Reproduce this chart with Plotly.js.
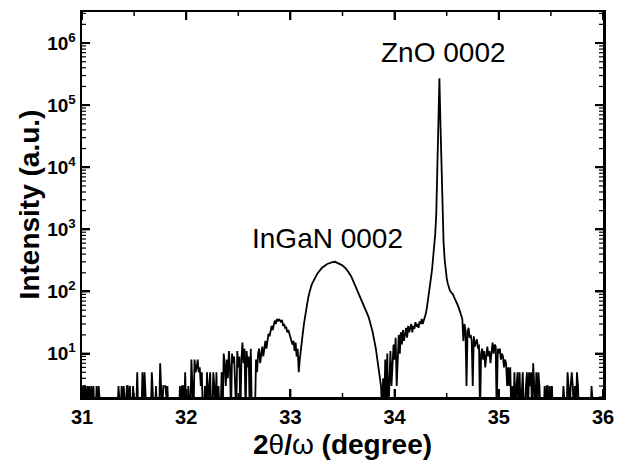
<!DOCTYPE html>
<html>
<head>
<meta charset="utf-8">
<script src="https://cdn.plot.ly/plotly-3.0.1.min.js"></script>
<style>html,body{margin:0;padding:0;background:#fff;}#chart{width:624px;height:473px;}</style>
</head>
<body>
<div id="chart"></div>
<script>
// 2theta/omega scan: start angle and step (degrees)
const scanStart = 31.0;
const scanStep = 0.01;
// Intensity (counts), one value per step from 31.00 to 36.00
const intensity = [
  3,1,3,3,1,3,2,3,1,3,
  1,3,1,1,3,1,3,1,1,1,
  1,1,1,1,1,1,1,1,1,1,
  1,1,1,1,1,3,1,1,3,1,
  3,1,1,3,3,1,3,1,1,3,
  1,1,1,5,1,1,1,1,5,1,
  5,1,1,1,1,1,1,5,1,1,
  1,3,1,1,1,7,1,1,3,3,
  3,2,3,1,1,1,1,1,1,1,
  1,1,1,1,3,1,3,3,1,5,
  1,1,3,1,1,8,3,1,8,5,
  6,8,5,6,3,5,1,1,3,1,
  5,1,3,5,1,1,5,3,1,5,
  1,3,1,1,5,1,10,7,3,8,
  4,11,6,1,10,7,9,3,1,11,
  6,9,1,8,15,7,12,1,11,6,
  9,1,12,1,1,2,1,8,5,10,
  12,7,10,13,9,14,16,12,18,21,
  19,25,28,24,30,34,30,36,33,36,
  34,32,35,28,30,26,27,22,24,21,
  18,17,14,16,11,15,9,12,5,8,
  12,16,22,30,40,52,64,78,92,110,
  122,135,148,160,170,182,195,207,220,228,
  238,246,255,262,268,275,280,284,290,294,
  298,300,296,302,294,290,285,280,276,268,
  262,255,246,236,225,214,203,192,180,166,
  152,140,128,118,108,98,90,82,74,66,
  62,57,52,48,44,39,34,30,26,22,
  18,15,12,9,7,5,4,3,1,4,
  1,8,2,10,1,6,11,3,9,14,
  8,18,3,12,20,10,22,14,24,16,
  20,26,18,28,22,25,30,22,28,25,
  32,27,30,26,33,30,36,30,34,38,
  44,55,70,95,130,170,230,340,520,850,
  1800,9000,45000,270000,50000,8000,1800,620,330,220,
  165,135,115,104,98,94,90,82,76,70,
  64,58,52,46,40,36,16,30,24,3,
  22,26,18,20,16,3,19,13,15,17,
  12,14,1,10,12,8,11,6,9,13,
  9,11,7,12,15,10,14,13,1,12,
  10,12,8,10,9,6,8,7,3,6,
  3,6,1,3,1,5,1,3,5,1,
  5,1,3,5,1,1,3,5,1,5,
  3,5,1,7,3,1,5,1,5,3,
  1,1,1,1,3,1,3,3,1,3,
  1,3,1,1,1,1,1,1,1,1,
  1,1,3,1,1,1,5,3,1,3,
  5,3,1,3,1,5,3,1,1,1,
  1,1,1,1,1,1,1,1,1,3,
  1,1,1,1,1,1,1,1,1,1,1
];
// axis ticks
const xTickVals = [31, 32, 33, 34, 35, 36];
const xTickText = ['31', '32', '33', '34', '35', '36'];
const xMinorTicks = [31.5, 32.5, 33.5, 34.5, 35.5];
const yTickVals = [10, 100, 1000, 10000, 100000, 1000000];
const yTickExp = ['1', '2', '3', '4', '5', '6'];
const yMinorTicks = [
  2,3,4,5,6,7,8,9,
  20,30,40,50,60,70,80,90,
  200,300,400,500,600,700,800,900,
  2000,3000,4000,5000,6000,7000,8000,9000,
  20000,30000,40000,50000,60000,70000,80000,90000,
  200000,300000,400000,500000,600000,700000,800000,900000,
  2000000,3000000
];
// titles and peak labels
const xTitle = '<b>2</b>θ<b>/</b>ω<b> (degree)</b>';
const yTitle = '<b>Intensity (a.u.)</b>';
const peakLabels = ['ZnO 0002', 'InGaN 0002'];

const FONT = 'Arial, "Liberation Sans", Helvetica, sans-serif';
const X_RANGE = [31, 36];
const Y_RANGE = [Math.log10(2), 6.5];

// inward tick marks on all four sides, placed through the axes' own scales
function xTickShapes(vals, len, width) {
  const out = [];
  vals.forEach(v => {
    out.push({type: 'line', xref: 'x', yref: 'paper', x0: v, x1: v, ysizemode: 'pixel', yanchor: 0, y0: 0, y1: len,
              line: {color: '#000', width: width}});
    out.push({type: 'line', xref: 'x', yref: 'paper', x0: v, x1: v, ysizemode: 'pixel', yanchor: 1, y0: 0, y1: -len,
              line: {color: '#000', width: width}});
  });
  return out;
}
function yTickShapes(vals, len, width) {
  const out = [];
  vals.forEach(v => {
    out.push({type: 'line', xref: 'paper', yref: 'y', y0: v, y1: v, xsizemode: 'pixel', xanchor: 0, x0: 0, x1: len,
              line: {color: '#000', width: width}});
    out.push({type: 'line', xref: 'paper', yref: 'y', y0: v, y1: v, xsizemode: 'pixel', xanchor: 1, x0: 0, x1: -len,
              line: {color: '#000', width: width}});
  });
  return out;
}

const trace = {
  type: 'scatter',
  mode: 'lines',
  x0: scanStart,
  dx: scanStep,
  y: intensity,
  line: {color: '#000', width: 1.8}
};

const layout = {
  width: 624,
  height: 473,
  margin: {l: 82, r: 21, t: 12, b: 76},
  showlegend: false,
  xaxis: {
    range: X_RANGE,
    tickmode: 'array',
    tickvals: xTickVals,
    ticktext: xTickText.map(t => '<b>' + t + '</b>'),
    ticks: 'inside',
    ticklen: 8,
    tickwidth: 2,
    tickcolor: '#000',
    showline: true,
    linewidth: 2.5,
    linecolor: '#000',
    mirror: 'allticks',
    showgrid: false,
    zeroline: false,
    tickfont: {family: FONT, size: 20, color: '#000', weight: 'bold'},
    title: {text: xTitle, font: {family: FONT, size: 28, color: '#000'}, standoff: 8}
  },
  yaxis: {
    type: 'log',
    range: Y_RANGE,
    tickmode: 'array',
    tickvals: yTickVals,
    ticktext: yTickExp.map(p => '<b>10<sup>' + p + '</sup></b>'),
    ticks: 'inside',
    ticklen: 8,
    tickwidth: 2,
    tickcolor: '#000',
    showline: true,
    linewidth: 2.5,
    linecolor: '#000',
    mirror: 'allticks',
    showgrid: false,
    zeroline: false,
    tickfont: {family: FONT, size: 19, color: '#000', weight: 'bold'},
    title: {text: yTitle, font: {family: FONT, size: 28, color: '#000'}, standoff: 0}
  },
  shapes: [].concat(
    xTickShapes(xTickVals, 8, 2),
    xTickShapes(xMinorTicks, 4, 1.5),
    yTickShapes(yTickVals, 8, 2),
    yTickShapes(yMinorTicks, 4, 1.2)
  ),
  annotations: [
    {text: peakLabels[0], x: 34.465, y: 5.84, xref: 'x', yref: 'y', showarrow: false,
     font: {family: FONT, size: 28, color: '#000'}},
    {text: peakLabels[1], x: 33.36, y: 2.85, xref: 'x', yref: 'y', showarrow: false,
     font: {family: FONT, size: 28, color: '#000'}}
  ]
};

Plotly.newPlot('chart', [trace], layout, {staticPlot: true});
</script>
</body>
</html>
